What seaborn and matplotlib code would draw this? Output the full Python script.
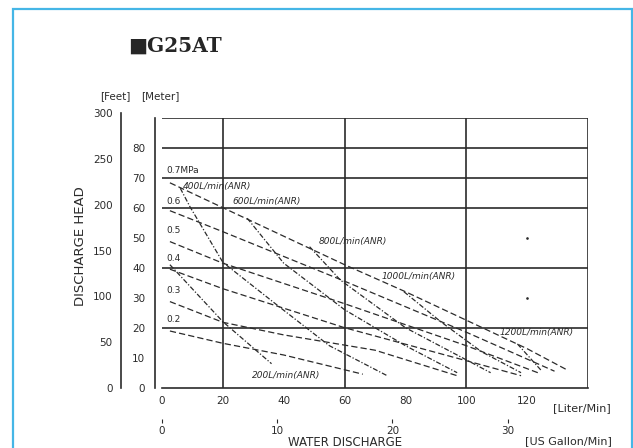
import numpy as np
import pandas as pd
import matplotlib
matplotlib.use("Agg")
import matplotlib.pyplot as plt
import seaborn as sns
from matplotlib.patches import Rectangle

sns.set_style("white")
plt.rcParams['font.family'] = ['DejaVu Sans']

# pressure curves (MPa): flow L/min -> head m
p07_flow = [2.6, 20, 40, 60, 80, 100, 120, 133]
p07_head = [68.3, 60, 50.5, 41, 32, 22.5, 13, 6]
p06_flow = [2.6, 20, 60, 100, 129]
p06_head = [59, 52, 35.5, 18.5, 5.5]
p05_flow = [2.6, 20, 60, 100, 123.5]
p05_head = [48.7, 41.5, 28, 14, 5]
p04_flow = [2.6, 20, 40, 60, 100, 118]
p04_head = [39.5, 33, 26.5, 20, 9, 4]
p03_flow = [2.6, 20, 40, 70, 97]
p03_head = [28.7, 21.8, 17.6, 12.5, 4]
p02_flow = [2.6, 20, 40, 66]
p02_head = [18.9, 14.8, 10.9, 4.5]

# air consumption curves (L/min ANR)
a200_flow = [2.6, 20, 36]
a200_head = [41, 22, 8]
a400_flow = [6, 9.2, 20, 39, 55, 74]
a400_head = [66.5, 60.3, 41.8, 26.6, 14, 4]
a600_flow = [28, 40, 60, 80, 97]
a600_head = [56.5, 41.5, 26, 14, 5]
a800_flow = [48.5, 58.6, 80, 108]
a800_head = [47, 35.9, 20, 5]
a1000_flow = [79.5, 91.6, 105, 118]
a1000_head = [32, 22, 12, 5]
a1200_flow = [116.8, 124.5]
a1200_head = [14.6, 5.9]

pressure_names = ["0.7MPa", "0.6", "0.5", "0.4", "0.3", "0.2"]
pressure_label_head = [72.5, 62.2, 52.5, 43.2, 32.5, 22.8]
air_names = ["200L/min(ANR)", "400L/min(ANR)", "600L/min(ANR)",
             "800L/min(ANR)", "1000L/min(ANR)", "1200L/min(ANR)"]
air_label_flow = [29.5, 7, 23, 51.5, 72, 111]
air_label_head = [4.2, 67.2, 62.2, 48.6, 37.2, 18.3]

dot_flow = [120, 120]
dot_head = [30, 50]

curves = {
    "0.7": (p07_flow, p07_head, "pressure"),
    "0.6": (p06_flow, p06_head, "pressure"),
    "0.5": (p05_flow, p05_head, "pressure"),
    "0.4": (p04_flow, p04_head, "pressure"),
    "0.3": (p03_flow, p03_head, "pressure"),
    "0.2": (p02_flow, p02_head, "pressure"),
    "200": (a200_flow, a200_head, "air"),
    "400": (a400_flow, a400_head, "air"),
    "600": (a600_flow, a600_head, "air"),
    "800": (a800_flow, a800_head, "air"),
    "1000": (a1000_flow, a1000_head, "air"),
    "1200": (a1200_flow, a1200_head, "air"),
}
rows = []
for name, (fl, hd, kind) in curves.items():
    for f, h in zip(fl, hd):
        rows.append({"flow": f, "head": h, "curve": name, "kind": kind})
df = pd.DataFrame(rows)

W, H = 633, 448
def px(x, y):
    return x / W, 1 - y / H

fig = plt.figure(figsize=(W / 100, H / 100), dpi=100)
y0 = 387.7          # pixel row of zero head
m_px = 3.0          # pixels per metre
ax = fig.add_axes([162 / W, 1 - y0 / H, 426 / W, 90 * m_px / H])
ink = "#2b2b2b"

sns.lineplot(data=df, x="flow", y="head", units="curve", style="kind",
             dashes={"pressure": (5, 2.5), "air": (4, 1.5, 1, 1.5)},
             estimator=None, sort=False, color=ink, lw=0.9, legend=False, ax=ax)
ax.scatter(dot_flow, dot_head, s=0.8, color=ink)

for y in [20, 40, 60, 70, 80, 90]:
    ax.axhline(y, color=ink, lw=1.2, zorder=0)
for x in [20, 60, 100, 140]:
    ax.axvline(x, color=ink, lw=1.2, zorder=0)

ax.set_xlim(0, 140)
ax.set_ylim(0, 90)
ax.set_xlabel("")
ax.set_ylabel("")
for s in ["top", "right"]:
    ax.spines[s].set_visible(False)
ax.spines["left"].set_position(("outward", 5))
for s in ["left", "bottom"]:
    ax.spines[s].set_color(ink)
    ax.spines[s].set_linewidth(1.2)

ax.set_yticks(range(0, 100, 10))
ax.set_yticklabels([str(v) for v in range(0, 90, 10)] + [""])
ax.set_xticks(range(0, 160, 20))
ax.set_xticklabels([str(v) for v in range(0, 140, 20)] + [""])
ax.tick_params(axis="y", direction="out", length=5, width=1, pad=2,
               labelsize=7.5, colors=ink)
ax.tick_params(axis="x", direction="in", length=5, width=1, pad=6,
               labelsize=7.5, colors=ink)

# feet axis: its own axes so the 300 ft end is shown
ft_top = 300 * 0.3048
ax_ft = fig.add_axes([121 / W, 1 - y0 / H, 1 / W, ft_top * m_px / H])
ax_ft.set_ylim(0, 300)
ax_ft.set_xticks([])
ax_ft.set_yticks(range(0, 350, 50))
for s in ["top", "right", "bottom"]:
    ax_ft.spines[s].set_visible(False)
ax_ft.spines["left"].set_color(ink)
ax_ft.spines["left"].set_linewidth(1.2)
ax_ft.patch.set_alpha(0)
ax_ft.tick_params(axis="y", direction="out", length=4, width=1, pad=2,
                  labelsize=7.5, colors=ink)

# gallon axis
ax_gal = ax.secondary_xaxis(-0.115,
                            functions=(lambda l: l / 3.785, lambda g: g * 3.785))
ax_gal.set_xticks([0, 10, 20, 30])
ax_gal.spines["bottom"].set_visible(False)
ax_gal.tick_params(direction="out", length=3, width=0.8, pad=2,
                   labelsize=7.5, colors=ink)

# labels on curves
for name, h in zip(pressure_names, pressure_label_head):
    ax.text(1.5, h, name, fontsize=6.5, color=ink, va="center", ha="left")
for name, f, h in zip(air_names, air_label_flow, air_label_head):
    ax.text(f, h, name, fontsize=6.5, style="italic", color=ink,
            va="center", ha="left")

fig.text(*px(128, 46), "\u25a0G25AT", fontsize=14.5, fontweight="bold",
         family=["DejaVu Serif", "DejaVu Sans"], va="center", ha="left")
fig.text(*px(100, 96), "[Feet]", fontsize=7.5, color=ink, va="center", ha="left")
fig.text(*px(141, 96), "[Meter]", fontsize=7.5, color=ink, va="center", ha="left")
fig.text(*px(80, 246), "DISCHARGE HEAD", fontsize=9.5, rotation=90,
         color=ink, va="center", ha="center")
fig.text(*px(553, 408), "[Liter/Min]", fontsize=8, color=ink, va="center", ha="left")
fig.text(*px(525, 441), "[US Gallon/Min]", fontsize=8, color=ink, va="center", ha="left")
fig.text(*px(345, 442.5), "WATER DISCHARGE", fontsize=8.5, color=ink,
         va="center", ha="center")

fig.add_artist(Rectangle(px(13, 460), (632 - 13) / W, (460 - 9) / H,
                         transform=fig.transFigure, fill=False,
                         ec="#45b6e6", lw=1.6))

fig.savefig("out.png", dpi=100)
